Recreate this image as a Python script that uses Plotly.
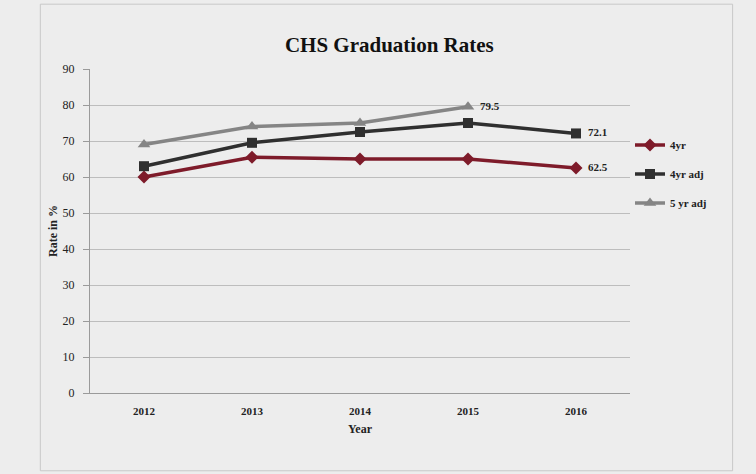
import plotly.graph_objects as go

years = ["2012", "2013", "2014", "2015", "2016"]
four_yr = [60.0, 65.5, 65.0, 65.0, 62.5]
four_yr_adj = [63.0, 69.5, 72.5, 75.0, 72.1]
five_yr_adj = [69.0, 74.0, 75.0, 79.5, None]
series_names = ["4yr", "4yr adj", "5 yr adj"]
y_ticks = [0, 10, 20, 30, 40, 50, 60, 70, 80, 90]

font_fam = "Liberation Serif, Times New Roman, serif"

fig = go.Figure()
styles = [
    (four_yr, series_names[0], "#7e1b2a", "diamond", 10),
    (four_yr_adj, series_names[1], "#2f2f2f", "square", 10),
    (five_yr_adj, series_names[2], "#858585", "triangle-up", 11),
]
for i, (vals, name, color, sym, size) in enumerate(styles):
    fig.add_trace(go.Scatter(
        x=years, y=vals, name=f"<b>{name}</b>", mode="lines+markers",
        line=dict(color=color, width=3.5),
        marker=dict(symbol=sym, size=size, color=color),
        connectgaps=False, legendgroup=f"g{i}",
    ))

# data labels (category index positions)
labels = [(3, five_yr_adj[3]), (4, four_yr_adj[4]), (4, four_yr[4])]
for xi, yv in labels:
    fig.add_annotation(x=xi, y=yv, xref="x", yref="y", text=f"<b>{yv:.1f}</b>",
                       showarrow=False, xanchor="left", xshift=10, yshift=1,
                       font=dict(family=font_fam, size=11, color="#222"))

fig.update_layout(
    width=756, height=474,
    margin=dict(l=90, r=126, t=69, b=81),
    paper_bgcolor="#ededed", plot_bgcolor="#ededed",
    title=dict(text="<b>CHS Graduation Rates</b>", x=0.515, xanchor="center",
               y=0.905, yanchor="middle",
               font=dict(family=font_fam, size=21, color="#111")),
    legend=dict(x=1.0, y=0.81, xanchor="left", yanchor="top",
                bgcolor="rgba(0,0,0,0)", tracegroupgap=10,
                font=dict(family=font_fam, size=11, color="#222"),
                itemwidth=30),
    showlegend=True,
    shapes=[dict(type="rect", xref="paper", yref="paper",
                 x0=-0.092, x1=1.19, y0=-0.24, y1=1.2,
                 line=dict(color="#c8c8c8", width=1))],
)
fig.update_xaxes(type="category", range=[-0.5, 4.5],
                 showgrid=False, showline=True, linecolor="#9a9a9a",
                 ticks="", ticklabelstandoff=8,
                 tickfont=dict(family=font_fam, size=11, color="#222"),
                 title=dict(text="<b>Year</b>", font=dict(family=font_fam, size=12, color="#222"),
                            standoff=8))
fig.update_yaxes(range=[0, 90], tickvals=y_ticks, showgrid=True, gridcolor="#bdbdbd",
                 zeroline=False, showline=True, linecolor="#9a9a9a",
                 ticks="outside", ticklen=6, tickcolor="#9a9a9a",
                 ticklabelstandoff=6,
                 tickfont=dict(family=font_fam, size=12, color="#222"),
                 title=dict(text="<b>Rate in %</b>", font=dict(family=font_fam, size=12, color="#222"),
                            standoff=2))
fig.for_each_xaxis(lambda a: a.update(tickprefix="<b>", ticksuffix="</b>"))
fig.for_each_yaxis(lambda a: a.update(tickprefix="<b>", ticksuffix="</b>"))

fig.write_html("out.html")
